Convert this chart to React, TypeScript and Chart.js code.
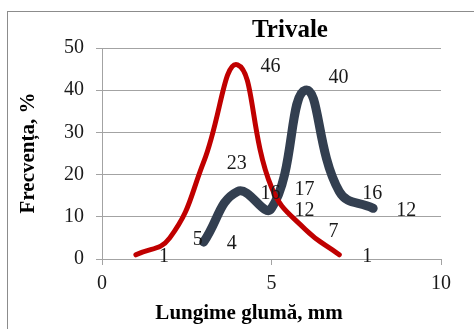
import { useEffect, useRef } from "react";
import { Chart, registerables } from "chart.js";

Chart.register(...registerables);

// Chart texts
const chartTitle = "Trivale";
const xAxisTitle = "Lungime glumă, mm";
const yAxisTitle = "Frecvența, %";

// First series (red)
const redLengths = [1, 2, 3, 4, 5, 6, 7];
const redFrequency = [1, 5, 23, 46, 17, 7, 1];

// Second series (dark slate)
const darkLengths = [3, 4, 5, 6, 7, 8];
const darkFrequency = [4, 16, 12, 40, 16, 12];

// Axis ticks
const xTicks = [0, 5, 10];
const yTicks = [0, 10, 20, 30, 40, 50];

const SERIF = '"Liberation Serif", "Times New Roman", serif';
const TEXT = "#1a1a1a";
const GRID = "#a3a3a3";

// Value labels sit to the right of each point, as in the spreadsheet export
const valueLabels = {
  id: "valueLabels",
  afterDatasetsDraw(chart: any) {
    const ctx = chart.ctx;
    ctx.save();
    ctx.font = `20px ${SERIF}`;
    ctx.fillStyle = TEXT;
    ctx.textAlign = "left";
    ctx.textBaseline = "middle";
    chart.data.datasets.forEach((ds: any, i: number) => {
      const meta = chart.getDatasetMeta(i);
      const lift: number[] = ds.labelLift || [];
      meta.data.forEach((pt: any, j: number) => {
        const v = ds.data[j].y;
        ctx.fillText(String(v), pt.x + 23, pt.y + 2 - (lift[j] || 0));
      });
    });
    ctx.restore();
  },
};

// Frame, chart title and axis titles
const decorations = {
  id: "decorations",
  beforeDraw(chart: any) {
    const ctx = chart.ctx;
    ctx.save();
    ctx.fillStyle = "#ffffff";
    ctx.fillRect(0, 0, chart.width, chart.height);
    ctx.strokeStyle = "#8c8c8c";
    ctx.lineWidth = 1;
    ctx.strokeRect(7.5, 11.5, chart.width + 20, chart.height + 20);
    ctx.restore();
  },
  afterDraw(chart: any) {
    const ctx = chart.ctx;
    ctx.save();
    ctx.fillStyle = "#000";
    ctx.textAlign = "center";
    ctx.textBaseline = "middle";
    ctx.font = `bold 25px ${SERIF}`;
    ctx.fillText(chartTitle, 290, 31);
    ctx.font = `bold 21px ${SERIF}`;
    ctx.fillText(xAxisTitle, 249, 314);
    ctx.translate(29, 153);
    ctx.rotate(-Math.PI / 2);
    ctx.fillText(yAxisTitle, 0, 0);
    ctx.restore();
  },
};

export default function App() {
  const canvasRef = useRef<HTMLCanvasElement | null>(null);

  useEffect(() => {
    if (!canvasRef.current) return;
    const chart = new Chart(canvasRef.current, {
      type: "line",
      data: {
        datasets: [
          {
            label: "Seria 1",
            data: redLengths.map((x, i) => ({ x, y: redFrequency[i] })),
            borderColor: "#c00000",
            borderWidth: 5,
            tension: 0.45,
            pointRadius: 0,
            borderCapStyle: "round",
            borderJoinStyle: "round",
            fill: false,
          } as any,
          {
            label: "Seria 2",
            data: darkLengths.map((x, i) => ({ x, y: darkFrequency[i] })),
            borderColor: "#333f50",
            borderWidth: 9,
            tension: 0.45,
            pointRadius: 0,
            borderCapStyle: "round",
            borderJoinStyle: "round",
            fill: false,
            labelLift: [0, 0, 0, 14, 0, 0],
          } as any,
        ],
      },
      options: {
        animation: false,
        responsive: false,
        layout: { padding: { top: 48, right: 33, left: 0, bottom: 0 } },
        plugins: {
          legend: { display: false },
          tooltip: { enabled: false },
          title: { display: false },
        },
        scales: {
          x: {
            type: "linear",
            min: xTicks[0],
            max: xTicks[xTicks.length - 1],
            afterBuildTicks(scale: any) {
              scale.ticks = xTicks.map((value) => ({ value }));
            },
            afterFit(scale: any) {
              scale.height = 70;
            },
            ticks: { font: { family: SERIF, size: 20 }, color: TEXT, padding: 7, maxRotation: 0 },
            grid: { drawOnChartArea: false, tickLength: 6, color: GRID },
            border: { color: GRID },
          },
          y: {
            type: "linear",
            min: yTicks[0],
            max: yTicks[yTicks.length - 1],
            afterBuildTicks(scale: any) {
              scale.ticks = yTicks.map((value) => ({ value }));
            },
            afterFit(scale: any) {
              scale.width = 102;
            },
            ticks: { font: { family: SERIF, size: 20 }, color: TEXT, padding: 12 },
            grid: { tickLength: 6, color: GRID },
            border: { color: GRID },
          },
        },
      } as any,
      plugins: [decorations, valueLabels],
    });
    return () => chart.destroy();
  }, []);

  return (
    <div style={{ position: "fixed", left: 0, top: 0, width: 474, height: 329, background: "#fff" }}>
      <canvas ref={canvasRef} width={474} height={329} style={{ display: "block" }} />
    </div>
  );
}
